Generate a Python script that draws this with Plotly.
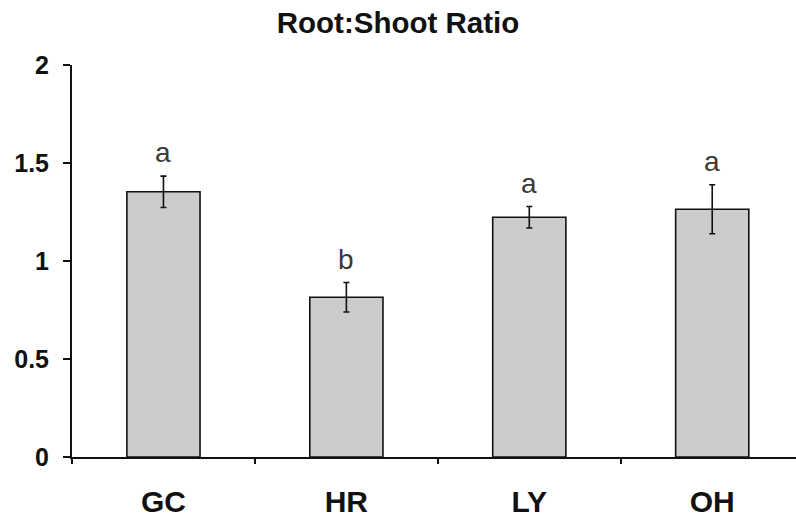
import plotly.graph_objects as go

categories = ["GC", "HR", "LY", "OH"]
means = [1.353, 0.815, 1.223, 1.264]
errors = [0.080, 0.075, 0.055, 0.125]
letters = ["a", "b", "a", "a"]

FONT = "Liberation Sans, Arial"

fig = go.Figure()
fig.add_trace(go.Bar(
    x=categories, y=means, width=0.4,
    marker=dict(color="#cccccc", line=dict(color="#111111", width=1.6)),
    error_y=dict(type="data", array=errors, visible=True, color="#111111",
                 thickness=1.6, width=3),
    showlegend=False,
))

for c, m, e, t in zip(categories, means, errors, letters):
    fig.add_annotation(x=c, y=m + e, text=t, showarrow=False, yanchor="bottom",
                       yshift=6, font=dict(size=28, color="#3a3a3a", family=FONT))

fig.update_layout(
    width=796, height=525,
    margin=dict(l=72, r=0, t=65, b=68, autoexpand=False),
    paper_bgcolor="white", plot_bgcolor="white",
    title=dict(text="<b>Root:Shoot Ratio</b>", x=0.5, xref="container", xanchor="center",
               y=1 - 22.5 / 525, yanchor="middle", yref="container", automargin=False,
               font=dict(size=29.5, color="#111111", family=FONT)),
    font=dict(family=FONT, color="#111111"),
)
fig.update_xaxes(
    type="category", range=[-0.5, 3.458], showline=True, linecolor="#111111", linewidth=2,
    ticks="outside", tickson="boundaries", ticklen=5, tickwidth=1.5, tickcolor="#111111",
    tickfont=dict(size=30, color="#111111", family=FONT, weight="bold"),
    ticklabelstandoff=17, showgrid=False, zeroline=False, automargin=False,
)
fig.update_yaxes(
    range=[0, 2], tickvals=[0, 0.5, 1, 1.5, 2], ticktext=["0", "0.5", "1", "1.5", "2"],
    showline=True, linecolor="#111111", linewidth=2,
    ticks="outside", ticklen=7, tickwidth=2, tickcolor="#111111",
    tickfont=dict(size=25, color="#111111", family=FONT, weight="bold"),
    ticklabelstandoff=9, showgrid=False, zeroline=False, automargin=False,
)

fig.write_html(
    "out.html",
    config={"displayModeBar": False},
    post_script="document.body.style.margin='0';document.body.style.overflow='hidden';",
)
